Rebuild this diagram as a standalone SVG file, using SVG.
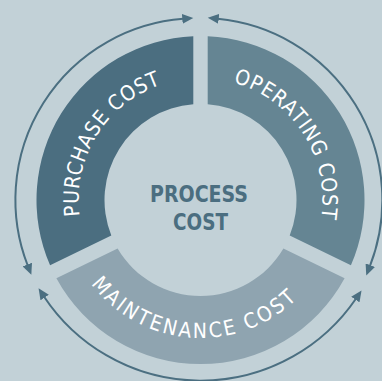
<svg xmlns="http://www.w3.org/2000/svg" width="382" height="381" viewBox="0 0 382 381">
  <defs>
    <style>
      .seg-text { font-family: "DejaVu Sans Condensed", "DejaVu Sans", "Liberation Sans", sans-serif; font-stretch: condensed; font-size: 21px; fill: #ffffff; }
      .center-text { font-family: "DejaVu Sans Condensed", "DejaVu Sans", "Liberation Sans", sans-serif; font-stretch: condensed; font-weight: bold; font-size: 23px; fill: #4b6e80; text-anchor: middle; }
      .arc { fill: none; stroke: #4b6f81; stroke-width: 2; }
    </style>
    <marker id="ah" markerUnits="userSpaceOnUse" markerWidth="12" markerHeight="10" refX="1" refY="5" orient="auto-start-reverse">
      <path d="M0,0 L11,5 L0,10 Z" fill="#4b6f81"/>
    </marker>
    <path id="tp-purchase" d="M119.35,291.09 A122,122 0 0 1 245.6,86.65"/>
    <path id="tp-operating" d="M153.03,87.61 A122,122 0 0 1 283.55,289.37"/>
    <path id="tp-maintenance" d="M63.2,213.95 A138,138 0 0 0 334.28,233.85"/>
  </defs>
  <rect x="0" y="0" width="382" height="381" fill="#c2d1d7"/>

  <g id="purchase-cost">
    <path d="M50.08,265.35 A164,164 0 0 1 193.3,36.16 L193.3,104.27 A96,96 0 0 0 111.3,235.5 Z" fill="#4b6e80"/>
    <text class="seg-text"><textPath href="#tp-purchase" startOffset="50%" text-anchor="middle" textLength="167" lengthAdjust="spacing">PURCHASE COST</textPath></text>
  </g>

  <g id="operating-cost">
    <path d="M207.7,36.16 A164,164 0 0 1 350.92,265.35 L289.7,235.5 A96,96 0 0 0 207.7,104.27 Z" fill="#658593"/>
    <text class="seg-text"><textPath href="#tp-operating" startOffset="50%" text-anchor="middle" textLength="177" lengthAdjust="spacing">OPERATING COST</textPath></text>
  </g>

  <g id="maintenance-cost">
    <path d="M344.61,278.3 A164,164 0 0 1 56.39,278.3 L117.61,248.43 A96,96 0 0 0 283.39,248.43 Z" fill="#8fa4b0"/>
    <text class="seg-text"><textPath href="#tp-maintenance" startOffset="50%" text-anchor="middle" textLength="233" lengthAdjust="spacing">MAINTENANCE COST</textPath></text>
  </g>

  <g id="process-cost">
    <text class="center-text" x="199" y="201.5" textLength="98" lengthAdjust="spacingAndGlyphs">PROCESS</text>
    <text class="center-text" x="200.5" y="230" textLength="55" lengthAdjust="spacingAndGlyphs">COST</text>
  </g>

  <g id="connectors">
    <path class="arc" d="M27.7,265.5 A181.5,181.5 0 0 1 183.3,18.8" marker-start="url(#ah)" marker-end="url(#ah)"/>
    <path class="arc" d="M217.7,18.8 A182,182 0 0 1 369.9,266.1" marker-start="url(#ah)" marker-end="url(#ah)"/>
    <path class="arc" d="M355.9,298.7 A188,188 0 0 1 44.1,296.7" marker-start="url(#ah)" marker-end="url(#ah)"/>
  </g>
</svg>
